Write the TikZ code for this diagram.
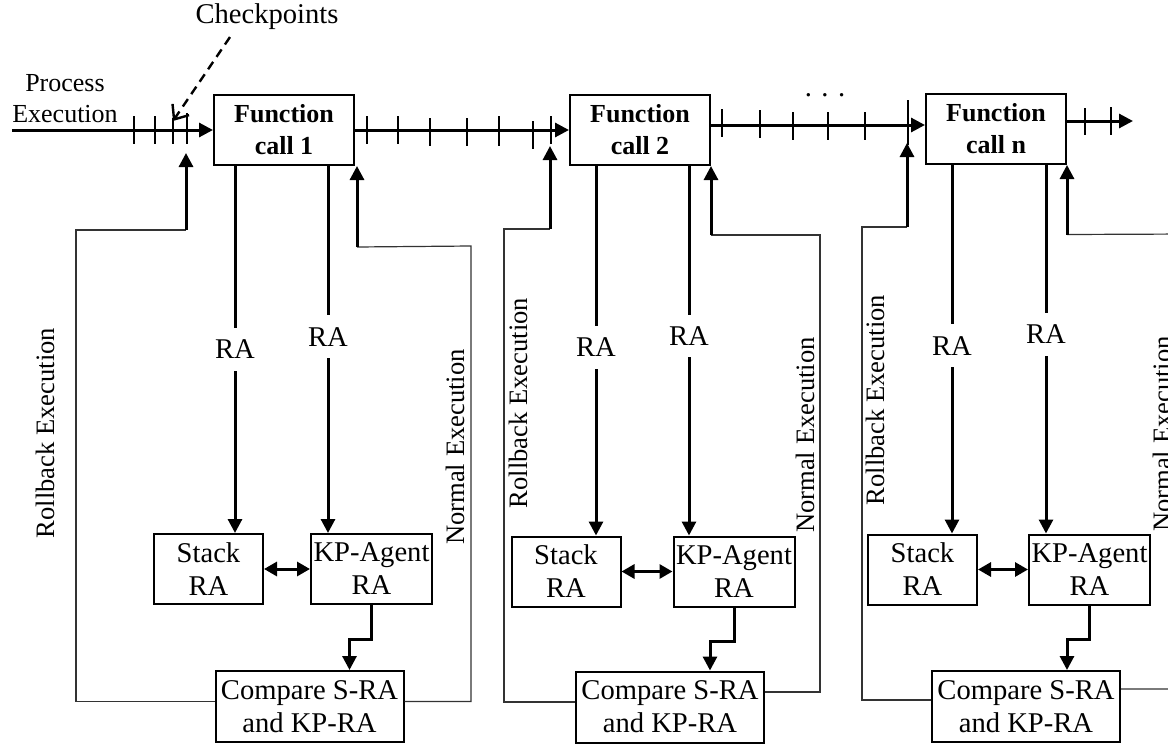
\documentclass[tikz,border=0pt]{standalone}
\usepackage{fontspec}
\setmainfont{Liberation Serif}
\usetikzlibrary{arrows.meta,positioning}

\begin{document}
\begin{tikzpicture}[
  x=0.5pt, y=-0.5pt,
  font=\fontsize{14.3}{16.5}\selectfont,
  arrow/.style={-{Triangle[length=7pt,width=7pt]}, line width=1.5pt},
  dblarrow/.style={{Triangle[length=6.5pt,width=7pt]}-{Triangle[length=6.5pt,width=7pt]}, line width=1.5pt},
  fbline/.style={line width=0.6pt, draw=black!80},
  tick/.style={line width=1pt},
  chkarrow/.style={-{Straight Barb[length=6pt,width=10pt]}, line width=1.2pt, dash pattern=on 4.5pt off 3pt},
  fbox/.style={rectangle, draw, line width=1pt, align=center, inner sep=1pt,
               minimum width=70pt, minimum height=35pt,
               font=\bfseries\fontsize{13}{16}\selectfont},
  stackbox/.style={rectangle, draw, line width=1pt, align=center, inner sep=1pt,
                   minimum width=54.5pt, minimum height=35pt},
  kpbox/.style={stackbox, minimum width=60.5pt},
  cmpbox/.style={stackbox, minimum width=94pt, minimum height=35.5pt},
  lbl/.style={fill=white, inner xsep=2pt, inner ysep=6pt},
  side/.style={rotate=90, font=\fontsize{13.3}{16}\selectfont}
]
\useasboundingbox (0,0) rectangle (1168,744);

% Top line
\coordinate (start) at (12,130);
\node[fbox] (f1) at (284,130) {Function\\call 1};
\node[fbox] (f2) at (640,130) {Function\\call 2};
\node[fbox] (f3) at (996,129) {Function\\call n};

\node[align=center, font=\fontsize{13}{15.5}\selectfont] (proc) at (65,99) {Process\\Execution};
\node (chk) at (267,17) {Checkpoints};
\node (dots) at (825,95) {. . .};
\coordinate (cp) at (173,121);

% Column 1
\node[stackbox] (s1) at (208.5,569) {Stack\\RA};
\node[kpbox, right=23pt of s1] (k1) {KP-Agent\\RA};
\node[cmpbox] (c1) at (309.5,706.5) {Compare S-RA\\and KP-RA};

% Column 2
\node[stackbox] (s2) at (566,571.5) {Stack\\RA};
\node[kpbox, right=25.5pt of s2] (k2) {KP-Agent\\RA};
\node[cmpbox] (c2) at (670,707) {Compare S-RA\\and KP-RA};

% Column 3
\node[stackbox] (s3) at (922.5,569.5) {Stack\\RA};
\node[kpbox, right=25pt of s3] (k3) {KP-Agent\\RA};
\node[cmpbox] (c3) at (1026,706.5) {Compare S-RA\\and KP-RA};

% Side labels
\node[side] (rb1txt) at (45,433) {Rollback Execution};
\node[side] (ne1txt) at (455,447) {Normal Execution};
\node[side] (rb2txt) at (518,403) {Rollback Execution};
\node[side] (ne2txt) at (805,435) {Normal Execution};
\node[side] (rb3txt) at (875,400) {Rollback Execution};
\node[side] (ne3txt) at (1162,434) {Normal Execution};

% Coordinates
\path (f1.south east) ++(2,81) coordinate (ne1);
\path (f1.west) ++(-27,100) coordinate (rb1);
\path (f2.south east) ++(0,69) coordinate (ne2);
\path (f2.west) ++(-19,99) coordinate (rb2);
\path (f3.south east) ++(0,69.5) coordinate (ne3);
\path (f3.west) ++(-18,98) coordinate (rb3);

% Process line
\draw[arrow] (start) -- (f1.west);
\draw[arrow] (f1.east) -- (f2.west);
\draw[arrow] ([yshift=2.5pt]f2.east) -- ([yshift=2.5pt]f2.east -| f3.west);
\draw[arrow] ([yshift=4pt]f3.east) -- ++(66,0);

% Ticks
\draw[tick] (134,116) -- (134,144) (155,116) -- (155,144) (173,118) -- (173,144) (187,113) -- (187,144)
  (367,116) -- (367,144) (398,116) -- (398,144) (430,118) -- (430,146) (467,118) -- (467,146)
  (499,116) -- (499,146) (533,121) -- (533,149) (551,116) -- (551,144)
  (722,109) -- (722,137) (760,110) -- (760,138) (793,112) -- (793,140) (828,112) -- (828,140)
  (865,112) -- (865,140) (908,100) -- (908,145)
  (1085,108) -- (1085,135) (1111,107) -- (1111,135);

\draw[chkarrow] ([xshift=-18.5pt]chk.south) -- (cp);

% RA arrows
\draw[arrow] ([xshift=-24.5pt]f1.south) -- node[lbl]{RA} ([xshift=-24.5pt]f1.south |- s1.north);
\draw[arrow] ([xshift=22pt]f1.south) -- node[lbl, pos=0.465]{RA} ([xshift=22pt]f1.south |- k1.north);
\draw[arrow] ([xshift=-22pt]f2.south) -- node[lbl, pos=0.49]{RA} ([xshift=-22pt]f2.south |- s2.north);
\draw[arrow] ([xshift=24.5pt]f2.south) -- node[lbl, pos=0.46]{RA} ([xshift=24.5pt]f2.south |- k2.north);
\draw[arrow] ([xshift=-22pt]f3.south) -- node[lbl, pos=0.49]{RA} ([xshift=-22pt]f3.south |- s3.north);
\draw[arrow] ([xshift=25pt]f3.south) -- node[lbl, pos=0.46]{RA} ([xshift=25pt]f3.south |- k3.north);

\draw[dblarrow] (s1.east) -- (s1.east -| k1.west);
\draw[dblarrow] (s2.east) -- (s2.east -| k2.west);
\draw[dblarrow] (s3.east) -- (s3.east -| k3.west);

\draw[arrow] (k1.south) -- ++(0,34) -| ([xshift=20pt]c1.north);
\draw[arrow] (k2.south) -- ++(0,34) -| ([xshift=20pt]c2.north);
\draw[arrow] (k3.south) -- ++(0,34) -| ([xshift=20.5pt]c3.north);

% Feedback loops
\draw[fbline] ([yshift=2.5pt]c1.east) -| (471,246) -- (ne1);
\draw[arrow] (ne1) -- (ne1 |- f1.south);
\draw[fbline] ([yshift=2.5pt]c1.west) -| (76,230) -- (rb1);
\draw[arrow] (rb1) -- ++(0,-77);

\draw[fbline] ([yshift=7.5pt]c2.east) -| (820,235) -- (ne2);
\draw[arrow] (ne2) -- (ne2 |- f2.south);
\draw[fbline] ([yshift=2.5pt]c2.west) -| (504,229) -- (rb2);
\draw[arrow] (rb2) -- ++(0,-83);

\draw[fbline] ([yshift=8.75pt]c3.east) -| (1190,234) -- (ne3);
\draw[arrow] (ne3) -- (ne3 |- f3.south);
\draw[fbline] ([yshift=3.25pt]c3.west) -| (862,227) -- (rb3);
\draw[arrow] (rb3) -- ++(0,-84);

\end{tikzpicture}
\end{document}
